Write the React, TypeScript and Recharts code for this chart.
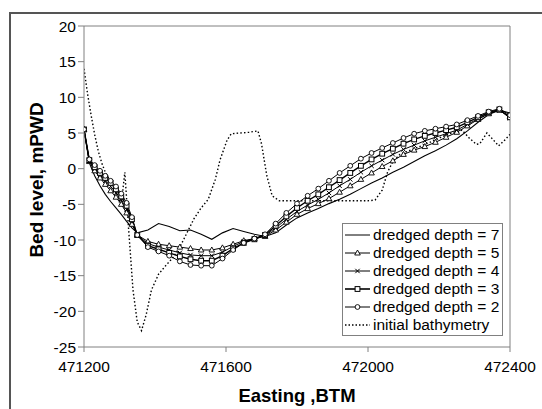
import React from 'react';
import { LineChart, Line, XAxis, YAxis, ReferenceLine } from 'recharts';

// Easting grid (m, BTM) for the dredged-depth model results
const eastingGrid = [
  471200, 471215, 471230, 471245, 471260, 471275, 471290, 471305, 471320, 471335, 471350,
  471380, 471410, 471440, 471470, 471500, 471530, 471560, 471590, 471620, 471650, 471680,
  471710, 471740, 471770, 471800, 471830, 471860, 471890, 471920, 471950, 471980, 472010,
  472040, 472070, 472100, 472130, 472160, 472190, 472220, 472250, 472280, 472310, 472340,
  472370, 472400,
];

// Bed level (mPWD) per dredged depth
const depth7 = [
  5.5, 0.8, -1.0, -2.4, -3.6, -4.6, -5.5, -6.4, -7.4, -8.3, -9.0,
  -8.6, -7.7, -8.1, -8.7, -8.6, -9.2, -9.9, -9.0, -8.4, -8.8, -9.2,
  -9.5, -9.0, -7.9, -6.9, -6.2, -5.6, -4.9, -4.3, -3.6, -2.8, -2.0,
  -1.3, -0.5, 0.2, 1.0, 1.8, 2.5, 3.3, 4.2, 5.3, 6.5, 7.6, 8.2, 7.8,
];
const depth5 = [
  5.5, 1.0, -0.3, -1.3, -2.2, -3.1, -4.0, -5.0, -6.2, -7.8, -9.3,
  -10.2, -10.6, -10.8, -11.0, -11.2, -11.4, -11.4, -11.1, -10.6, -10.1, -9.8,
  -9.5, -8.6, -7.5, -6.4, -5.6, -4.9, -4.2, -3.3, -2.4, -1.5, -0.6,
  0.3, 1.1, 2.0, 2.6, 3.1, 3.7, 4.4, 5.1, 6.0, 6.9, 7.7, 8.2, 7.3,
];
const depth4 = [
  5.5, 1.1, 0.0, -0.9, -1.7, -2.5, -3.4, -4.4, -5.7, -7.4, -9.3,
  -10.5, -11.0, -11.4, -11.8, -12.1, -12.2, -12.2, -11.7, -10.9, -10.2, -9.8,
  -9.4, -8.3, -7.1, -6.0, -5.1, -4.3, -3.4, -2.4, -1.5, -0.5, 0.4,
  1.2, 2.0, 2.7, 3.3, 3.9, 4.4, 4.9, 5.4, 6.2, 7.0, 7.8, 8.2, 7.1,
];
const depth3 = [
  5.5, 1.2, 0.2, -0.6, -1.3, -2.0, -2.9, -3.9, -5.2, -7.1, -9.3,
  -10.8, -11.3, -11.8, -12.3, -12.7, -12.9, -12.9, -12.2, -11.2, -10.4, -9.9,
  -9.3, -8.0, -6.7, -5.5, -4.5, -3.6, -2.6, -1.6, -0.6, 0.4, 1.3,
  2.1, 2.8, 3.5, 4.1, 4.6, 5.0, 5.4, 5.8, 6.5, 7.2, 7.9, 8.3, 7.2,
];
const depth2 = [
  5.5, 1.3, 0.5, -0.3, -1.0, -1.7, -2.5, -3.5, -4.8, -6.8, -9.3,
  -11.0, -11.6, -12.2, -13.0, -13.5, -13.6, -13.6, -12.6, -11.4, -10.4, -9.8,
  -9.2, -7.7, -6.2, -4.9, -3.8, -2.8, -1.7, -0.6, 0.4, 1.4, 2.2,
  2.9, 3.6, 4.3, 4.9, 5.3, 5.6, 5.9, 6.2, 6.8, 7.4, 8.0, 8.4, 7.5,
];

// Initial bathymetry
const initialEasting = [
  471200, 471210, 471220, 471230, 471240, 471250, 471260, 471275, 471290, 471305,
  471315, 471325, 471338, 471350, 471362, 471375, 471390, 471410, 471430, 471450,
  471470, 471490, 471510, 471530, 471550, 471570, 471583, 471603, 471615, 471640,
  471665, 471690, 471700, 471715, 471730, 471750, 471800, 471900, 472000, 472020,
  472040, 472055, 472070, 472090, 472120, 472150, 472180, 472210, 472240, 472265,
  472285, 472305, 472315, 472335, 472350, 472368, 472385, 472400,
];
const initialLevel = [
  14, 10.5, 7.5, 4.8, 2.5, 0.8, -0.5, -1.8, -3.2, -5.0,
  -0.5, -8, -17, -21.5, -22.7, -20.5, -17, -14.8, -13.6, -12.5,
  -11, -9, -7, -5.5, -4.3, -1.5, 1.2, 4.0, 4.9, 5.0,
  5.1, 5.3, 3.5, -1, -3.8, -4.5, -4.5, -4.5, -4.5, -4.4,
  -3, -0.5, 1, 2, 2.6, 3.2, 3.8, 4.5, 5.1, 5.4,
  4.3, 3.4, 3.5, 5, 4.2, 3.2, 4, 4.8,
];

const xTicks = [471200, 471600, 472000, 472400];
const yTicks = [-25, -20, -15, -10, -5, 0, 5, 10, 15, 20];
const legendLabels = [
  'dredged depth = 7',
  'dredged depth = 5',
  'dredged depth = 4',
  'dredged depth = 3',
  'dredged depth = 2',
  'initial bathymetry',
];

const W = 542;
const H = 409;
const FONT = '"Liberation Sans", Arial, sans-serif';

const Tri = ({ cx, cy }: { cx: number; cy: number }) => (
  <polygon points={`${cx},${cy - 3} ${cx - 2.8},${cy + 2} ${cx + 2.8},${cy + 2}`} fill="#fff" stroke="#000" strokeWidth={0.9} />
);
const Cross = ({ cx, cy }: { cx: number; cy: number }) => (
  <g stroke="#000" strokeWidth={1}>
    <line x1={cx - 2.2} y1={cy - 2.2} x2={cx + 2.2} y2={cy + 2.2} />
    <line x1={cx - 2.2} y1={cy + 2.2} x2={cx + 2.2} y2={cy - 2.2} />
  </g>
);
const Sq = ({ cx, cy }: { cx: number; cy: number }) => (
  <rect x={cx - 2.4} y={cy - 2.4} width={4.8} height={4.8} fill="#fff" stroke="#000" strokeWidth={1} />
);
const Circ = ({ cx, cy }: { cx: number; cy: number }) => (
  <circle cx={cx} cy={cy} r={2.4} fill="#fff" stroke="#000" strokeWidth={0.9} />
);

const dotOf = (Comp: any, tag: string) => (p: any) =>
  p.cx == null || p.cy == null ? <g key={`${tag}-${p.index}`} /> : <Comp key={`${tag}-${p.index}`} cx={p.cx} cy={p.cy} />;

const LegendSample = ({ i }: { i: number }) => {
  const y = 9;
  const line =
    i === 5 ? (
      <line x1={2} y1={y} x2={27} y2={y} stroke="#000" strokeWidth={1.3} strokeDasharray="1.5 2" />
    ) : (
      <line x1={2} y1={y} x2={27} y2={y} stroke="#000" strokeWidth={i === 3 ? 1.6 : 1} />
    );
  const m = [null, Tri, Cross, Sq, Circ, null][i];
  return (
    <svg width={30} height={18} style={{ display: 'block' }}>
      {line}
      {m ? React.createElement(m, { cx: 14.5, cy: y }) : null}
    </svg>
  );
};

export default function App() {
  const rows = eastingGrid.map((x, i) => ({
    x,
    d7: depth7[i],
    d5: depth5[i],
    d4: depth4[i],
    d3: depth3[i],
    d2: depth2[i],
  }));
  const initData = initialEasting.map((x, i) => ({ x, init: initialLevel[i] }));

  return (
    <div style={{ position: 'absolute', left: 0, top: 0, width: W, height: H, background: '#fff', overflow: 'hidden', fontFamily: FONT }}>
      <div style={{ position: 'absolute', left: 9, top: 12, width: W, height: H, borderTop: '2px solid #555', borderLeft: '2px solid #555' }} />
      <div style={{ position: 'absolute', left: 0, top: 0 }}>
        <LineChart width={W} height={H} data={rows} margin={{ top: 26, right: 32, bottom: 0, left: 0 }}>
          <XAxis
            type="number"
            dataKey="x"
            domain={[471200, 472400]}
            ticks={xTicks}
            interval={0}
            height={62}
            stroke="#808080"
            tickSize={5}
            tickMargin={9}
            tick={{ fill: '#000', fontSize: 15.5, fontFamily: FONT }}
            allowDataOverflow
          />
          <YAxis
            type="number"
            domain={[-25, 20]}
            ticks={yTicks}
            interval={0}
            width={84}
            stroke="#808080"
            tickSize={6}
            tickMargin={2}
            tick={{ fill: '#000', fontSize: 15.5, fontFamily: FONT }}
            allowDataOverflow
          />
          <ReferenceLine y={20} stroke="#808080" strokeWidth={1} />
          <ReferenceLine x={472400} stroke="#808080" strokeWidth={1} />
          <Line dataKey="d7" stroke="#000" strokeWidth={1.1} dot={false} activeDot={false} isAnimationActive={false} />
          <Line dataKey="d5" stroke="#000" strokeWidth={1} dot={dotOf(Tri, 't')} activeDot={false} isAnimationActive={false} />
          <Line dataKey="d4" stroke="#000" strokeWidth={1} dot={dotOf(Cross, 'x')} activeDot={false} isAnimationActive={false} />
          <Line dataKey="d3" stroke="#000" strokeWidth={1.4} dot={dotOf(Sq, 's')} activeDot={false} isAnimationActive={false} />
          <Line dataKey="d2" stroke="#000" strokeWidth={1} dot={dotOf(Circ, 'c')} activeDot={false} isAnimationActive={false} />
          <Line
            data={initData}
            dataKey="init"
            stroke="#000"
            strokeWidth={1.4}
            strokeDasharray="1.5 2.2"
            dot={false}
            activeDot={false}
            isAnimationActive={false}
          />
        </LineChart>
      </div>
      <div
        style={{
          position: 'absolute',
          left: 37,
          top: 180,
          transform: 'translate(-50%, -50%) rotate(-90deg)',
          whiteSpace: 'nowrap',
          fontWeight: 'bold',
          fontSize: 19,
          color: '#000',
        }}
      >
        Bed level, mPWD
      </div>
      <div
        style={{
          position: 'absolute',
          left: 297,
          top: 396,
          transform: 'translate(-50%, -50%)',
          whiteSpace: 'nowrap',
          fontWeight: 'bold',
          fontSize: 18.5,
          color: '#000',
        }}
      >
        Easting ,BTM
      </div>
      <div
        style={{
          position: 'absolute',
          left: 342,
          top: 223,
          width: 161,
          height: 113,
          border: '1px solid #808080',
          background: '#fff',
          boxSizing: 'border-box',
          paddingTop: 2,
        }}
      >
        {legendLabels.map((lab, i) => (
          <div key={lab} style={{ display: 'flex', alignItems: 'center', height: 18, paddingLeft: 0 }}>
            <LegendSample i={i} />
            <span style={{ fontSize: 15.5, color: '#000', whiteSpace: 'nowrap', marginLeft: 0 }}>{lab}</span>
          </div>
        ))}
      </div>
    </div>
  );
}
